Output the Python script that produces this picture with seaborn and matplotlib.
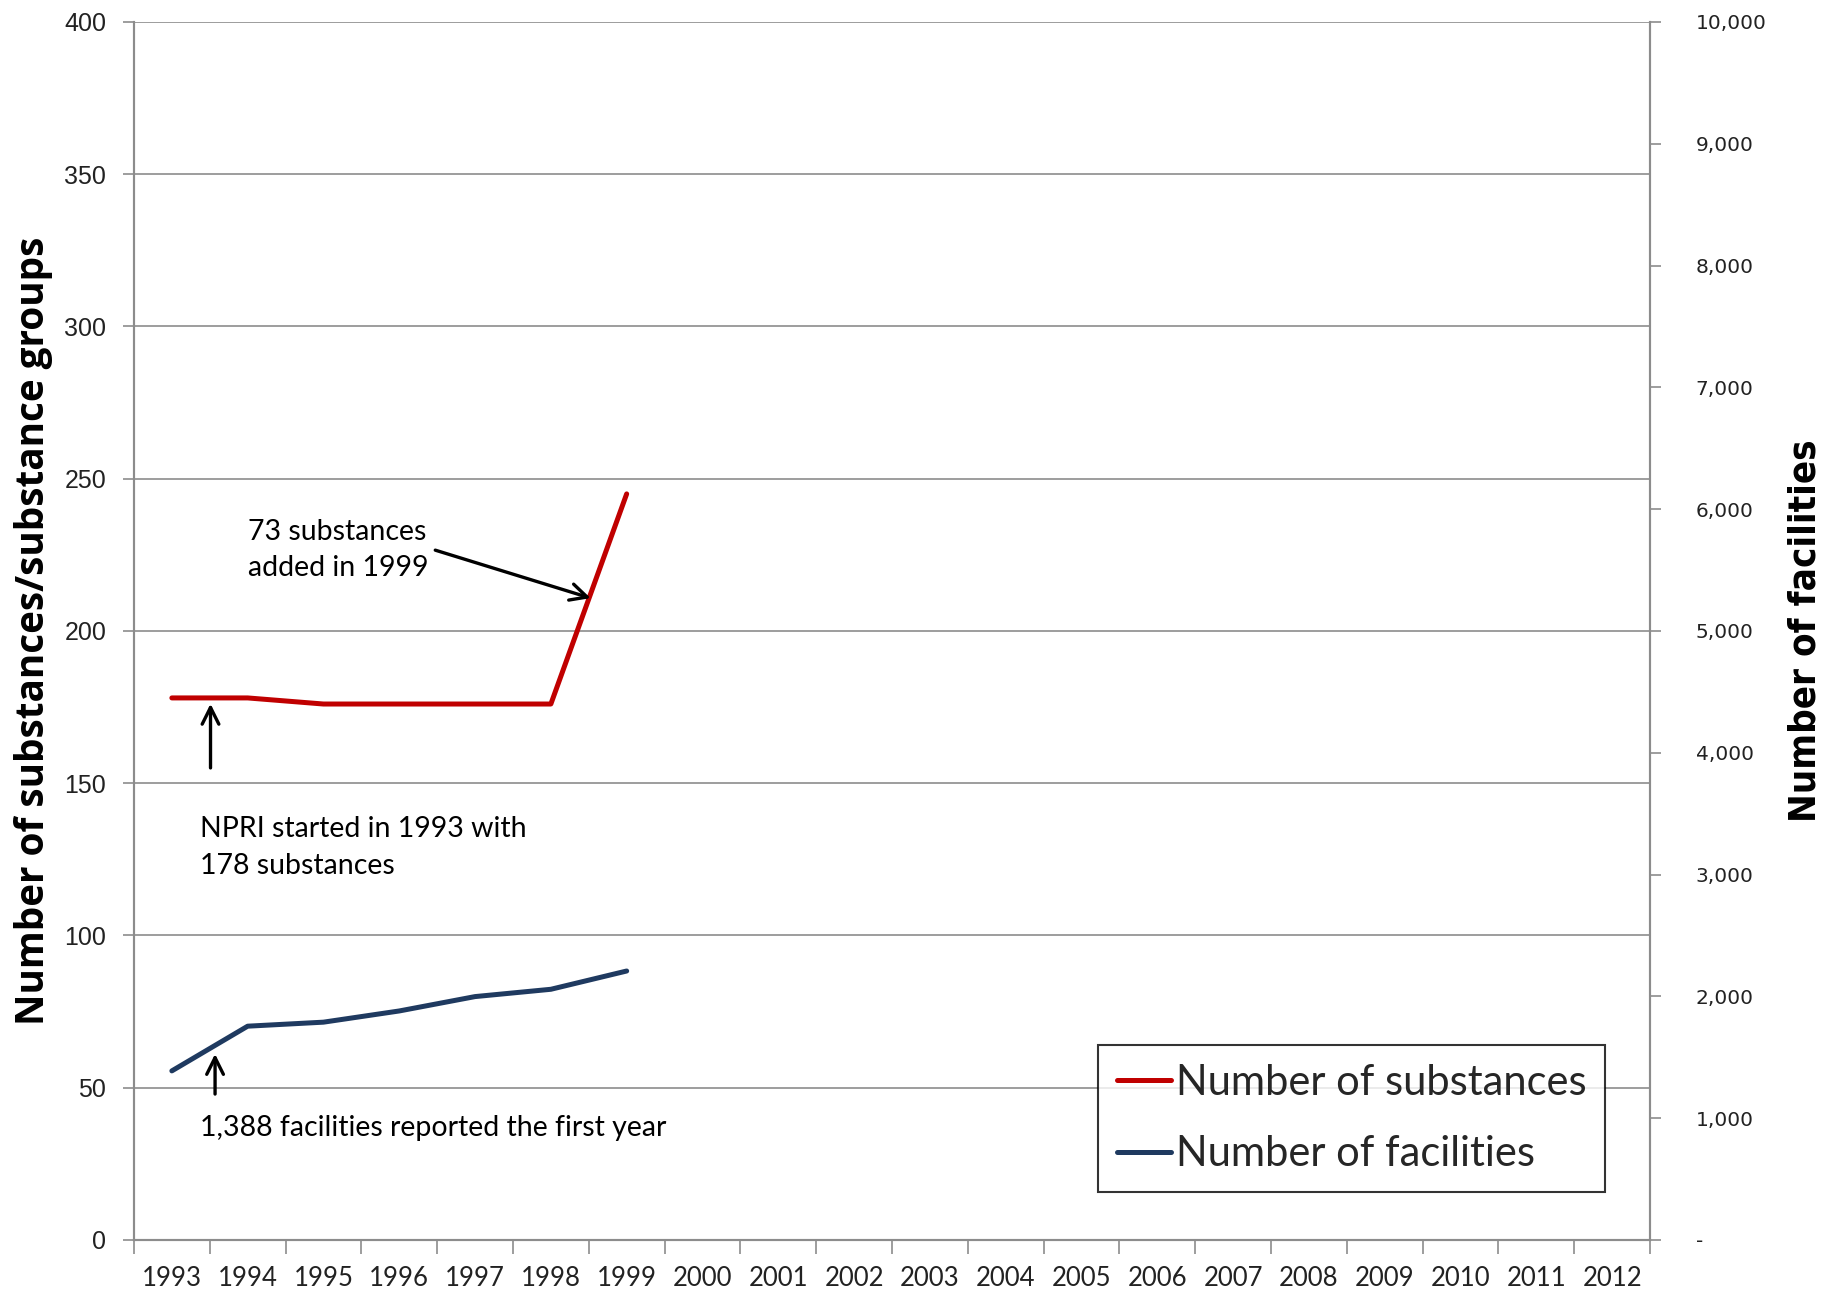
import numpy as np
import pandas as pd
import matplotlib
matplotlib.use("Agg")
import matplotlib.pyplot as plt
import seaborn as sns
from matplotlib.ticker import FixedLocator, FuncFormatter

# ---------------- data ----------------
all_years = [str(y) for y in range(1993, 2013)]
data_years = [1993, 1994, 1995, 1996, 1997, 1998, 1999]
substances = [178, 178, 176, 176, 176, 176, 245]
facilities = [1388, 1755, 1788, 1880, 1998, 2058, 2208]

left_ticks = [0, 50, 100, 150, 200, 250, 300, 350, 400]
right_ticks = list(range(0, 10001, 1000))

sub_label = "Number of substances"
fac_label = "Number of facilities"
left_title = "Number of substances/substance groups"
right_title = "Number of facilities"

red = "#C00000"
navy = "#1F3A60"
grid_c = "#8C8C8C"

sns.set_theme(style="white")
plt.rcParams['font.family'] = ['Lato', 'DejaVu Sans']

df = pd.DataFrame({
    "pos": [all_years.index(str(y)) for y in data_years],
    "substances": substances,
    "facilities": facilities,
})

fig = plt.figure(figsize=(18.25, 12.9), dpi=100)
ax = fig.add_axes([0.0734, 0.0388, 0.8307, 0.9442])
ax2 = ax.twinx()

sns.lineplot(data=df, x="pos", y="substances", ax=ax, color=red, linewidth=3.6,
             label=sub_label, legend=False)
sns.lineplot(data=df, x="pos", y="facilities", ax=ax2, color=navy, linewidth=3.6,
             label=fac_label, legend=False)

n = len(all_years)
ax.set_xlim(-0.5, n - 0.5)
ax.set_ylim(0, 400)
ax2.set_ylim(0, 10000)

# x axis: ticks at category boundaries, labels centered
ax.xaxis.set_major_locator(FixedLocator(np.arange(-0.5, n, 1.0)))
ax.xaxis.set_major_formatter(FuncFormatter(lambda v, p: ""))
ax.set_xticks(np.arange(0, n, 1.0), minor=True)
ax.set_xticklabels(all_years, minor=True, fontsize=18.5, color="#222222")
ax.tick_params(axis='x', which='major', direction='out', length=10, width=1.2,
               color=grid_c, bottom=True)
ax.tick_params(axis='x', which='minor', length=0, pad=19, bottom=True)
ax.set_xlabel("")

# left axis
ax.set_yticks(left_ticks)
ax.set_yticklabels([str(t) for t in left_ticks], fontsize=18, color="#222222",
                   family=['Liberation Sans Narrow', 'Liberation Sans', 'DejaVu Sans'])
ax.tick_params(axis='y', which='major', direction='out', length=8, width=1.2,
               color=grid_c, left=True, pad=12)
ax.set_ylabel(left_title, fontsize=27.8, fontweight='bold', color="black",
              family=['Open Sans', 'DejaVu Sans'], labelpad=8)
ax.grid(axis='y', color=grid_c, linewidth=1.2)
ax.grid(axis='x', visible=False)

# right axis
ax2.set_yticks(right_ticks)
ax2.yaxis.set_major_formatter(FuncFormatter(lambda v, p: "-" if v == 0 else f"{int(v):,}"))
for lab in ax2.get_yticklabels():
    lab.set_fontsize(14.5)
    lab.set_family('DejaVu Sans')
    lab.set_color("#222222")
ax2.tick_params(axis='y', which='major', direction='out', length=8, width=1.2,
                color=grid_c, right=True, pad=25)
ax2.set_ylabel(right_title, fontsize=27.5, fontweight='bold', color="black",
               family=['Liberation Sans Narrow', 'DejaVu Sans'], fontstretch='condensed',
               labelpad=15)
ax2.grid(False)

for a in (ax, ax2):
    a.spines['top'].set_visible(False)
    for s in ('left', 'bottom', 'right'):
        a.spines[s].set_color(grid_c)
        a.spines[s].set_linewidth(1.5)

# annotations
ann_kw = dict(fontsize=20.5, color="black", family=['Lato', 'DejaVu Sans'])
arrow_kw = dict(arrowstyle="->", color="black", lw=2.4, mutation_scale=30)

ax.annotate("", xy=(5.56, 210.5), xytext=(3.44, 226.8), arrowprops=arrow_kw)
ax.text(1.0, 226.6, "73 substances\nadded in 1999", ha='left', va='center',
        linespacing=1.5, **ann_kw)

ax.annotate("", xy=(0.51, 177.0), xytext=(0.51, 154.1), arrowprops=arrow_kw)
ax.text(0.37, 128.8, "NPRI started in 1993 with\n178 substances", ha='left', va='center',
        linespacing=1.5, **ann_kw)

ax.annotate("", xy=(0.57, 62.0), xytext=(0.57, 47.0), arrowprops=arrow_kw)
ax.text(0.37, 36.7, "1,388 facilities reported the first year", ha='left', va='center',
        **ann_kw)

# legend
h1, l1 = ax.get_legend_handles_labels()
h2, l2 = ax2.get_legend_handles_labels()
leg = ax2.legend(h1 + h2, l1 + l2, loc='lower left', bbox_to_anchor=(0.636, 0.0395),
                 fontsize=30, frameon=True, fancybox=False, edgecolor='black',
                 handlelength=1.3, handletextpad=0.12, labelspacing=0.8,
                 borderpad=0.45, borderaxespad=0)
leg.get_frame().set_linewidth(1.5)
for t in leg.get_texts():
    t.set_family(['Lato', 'DejaVu Sans'])

fig.savefig("out.png", dpi=100, facecolor='white')
